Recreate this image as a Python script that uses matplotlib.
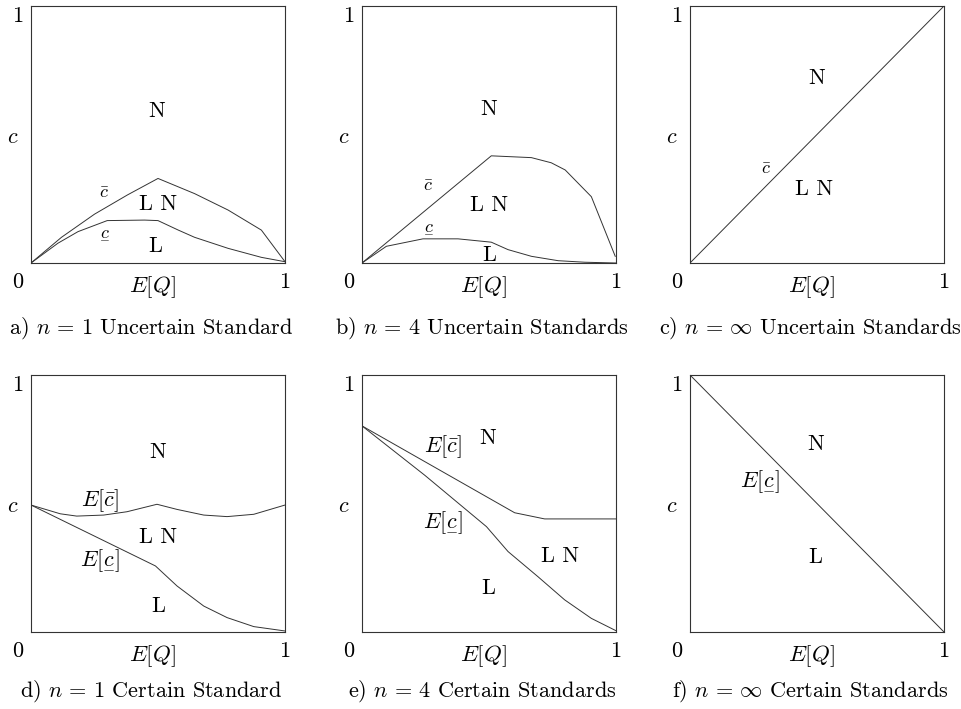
import matplotlib
matplotlib.use("Agg")
from matplotlib import pyplot as plt

plt.rcParams['font.family'] = 'serif'
plt.rcParams['font.serif'] = ['cmr10']
plt.rcParams['mathtext.fontset'] = 'cm'
plt.rcParams['axes.unicode_minus'] = False
plt.rcParams['axes.formatter.use_mathtext'] = True

# a) n = 1 uncertain standard
a_x_bar = [0, 0.12, 0.25, 0.38, 0.5, 0.644, 0.776, 0.907, 1.0]
a_y_bar = [0, 0.10, 0.19, 0.265, 0.329, 0.27, 0.206, 0.128, 0.005]
a_x_low = [0, 0.106, 0.185, 0.30, 0.447, 0.5, 0.58, 0.644, 0.776, 0.907, 1.0]
a_y_low = [0, 0.077, 0.122, 0.165, 0.167, 0.165, 0.128, 0.10, 0.057, 0.022, 0.005]

# b) n = 4 uncertain standards
b_x_bar = [0, 0.509, 0.667, 0.745, 0.80, 0.903, 0.997]
b_y_bar = [0, 0.417, 0.41, 0.39, 0.362, 0.258, 0.026]
b_x_low = [0, 0.096, 0.24, 0.378, 0.509, 0.575, 0.667, 0.772, 0.877, 1.0]
b_y_low = [0, 0.065, 0.094, 0.094, 0.081, 0.052, 0.026, 0.009, 0.003, 0]

# c) n = inf uncertain standards
c_x = [0, 1]
c_y = [0, 1]

# d) n = 1 certain standard
d_x_bar = [0, 0.115, 0.18, 0.286, 0.378, 0.496, 0.575, 0.68, 0.772, 0.877, 1.0]
d_y_bar = [0.494, 0.46, 0.451, 0.455, 0.468, 0.497, 0.477, 0.455, 0.449, 0.458, 0.494]
d_x_low = [0, 0.49, 0.575, 0.68, 0.772, 0.877, 1.0]
d_y_low = [0.494, 0.257, 0.179, 0.101, 0.056, 0.021, 0.004]

# e) n = 4 certain standards
e_x_bar = [0, 0.601, 0.719, 1.0]
e_y_bar = [0.802, 0.464, 0.44, 0.44]
e_x_low = [0, 0.247, 0.49, 0.575, 0.693, 0.798, 0.903, 1.0]
e_y_low = [0.802, 0.61, 0.41, 0.313, 0.215, 0.125, 0.053, 0.005]

# f) n = inf certain standards
f_x = [0, 1]
f_y = [1, 0]

captions = [r'a) $n\,=\,1$ Uncertain Standard', r'b) $n\,=\,4$ Uncertain Standards',
            r'c) $n\,=\,\infty$ Uncertain Standards', r'd) $n\,=\,1$ Certain Standard',
            r'e) $n\,=\,4$ Certain Standards', r'f) $n\,=\,\infty$ Certain Standards']

# mathtext has no \underline, so put a bar under c with \underset
CBAR = r'$\bar{c}$'
CLOW = r'$\underset{-}{c}$'
ECBAR = r'$E[\bar{c}]$'
ECLOW = r'$E[\underset{-}{c}]$'

panels = [
    dict(lines=[(a_x_bar, a_y_bar), (a_x_low, a_y_low)],
         labels=[(0.495, 0.59, 'N', 16), (0.29, 0.27, CBAR, 13), (0.5, 0.23, 'L N', 16),
                 (0.29, 0.117, CLOW, 13), (0.49, 0.065, 'L', 16)]),
    dict(lines=[(b_x_bar, b_y_bar), (b_x_low, b_y_low)],
         labels=[(0.5, 0.60, 'N', 16), (0.26, 0.30, CBAR, 13), (0.5, 0.226, 'L N', 16),
                 (0.26, 0.14, CLOW, 13), (0.5, 0.03, 'L', 16)]),
    dict(lines=[(c_x, c_y)],
         labels=[(0.497, 0.72, 'N', 16), (0.30, 0.366, CBAR, 13), (0.49, 0.288, 'L N', 16)]),
    dict(lines=[(d_x_bar, d_y_bar), (d_x_low, d_y_low)],
         labels=[(0.50, 0.70, 'N', 16), (0.27, 0.51, ECBAR, 16), (0.50, 0.37, 'L N', 16),
                 (0.27, 0.28, ECLOW, 16), (0.50, 0.10, 'L', 16)]),
    dict(lines=[(e_x_bar, e_y_bar), (e_x_low, e_y_low)],
         labels=[(0.496, 0.754, 'N', 16), (0.319, 0.721, ECBAR, 16), (0.778, 0.293, 'L N', 16),
                 (0.319, 0.43, ECLOW, 16), (0.496, 0.17, 'L', 16)]),
    dict(lines=[(f_x, f_y)],
         labels=[(0.494, 0.73, 'N', 16), (0.275, 0.59, ECLOW, 16), (0.494, 0.29, 'L', 16)]),
]

W, H = 961, 709
lefts = [31, 362, 690]
tops = [6, 375]
box_w, box_h = 254, 257
cap_off = [-0.253, -0.23]

fig = plt.figure(figsize=(W / 100, H / 100), dpi=100)

for i, p in enumerate(panels):
    row, col = divmod(i, 3)
    ax = fig.add_axes([lefts[col] / W, 1 - (tops[row] + box_h) / H, box_w / W, box_h / H])
    ax.set_xlim(0, 1)
    ax.set_ylim(0, 1)
    ax.set_xticks([])
    ax.set_yticks([])
    for s in ax.spines.values():
        s.set_linewidth(0.8)
        s.set_color('#333333')
    for xs, ys in p['lines']:
        ax.plot(xs, ys, color='#333333', lw=0.7)
    for x, y, s, fs in p['labels']:
        ax.text(x, y, s, fontsize=fs, ha='center', va='center')

    # corner values and axis names
    ax.text(-0.03, 1.0, '1', fontsize=16, ha='right', va='top', transform=ax.transAxes)
    ax.text(-0.03, -0.035, '0', fontsize=16, ha='right', va='top', transform=ax.transAxes)
    ax.text(1.0, -0.035, '1', fontsize=16, ha='center', va='top', transform=ax.transAxes)
    ax.text(-0.07, 0.49, '$c$', fontsize=16, ha='center', va='center', transform=ax.transAxes)
    ax.text(0.478, -0.093, '$E[Q]$', fontsize=16.5, ha='center', va='center', transform=ax.transAxes)
    ax.text(0.472, cap_off[row], captions[i], fontsize=16, ha='center', va='center',
            transform=ax.transAxes)

fig.savefig('out.png', dpi=100)
